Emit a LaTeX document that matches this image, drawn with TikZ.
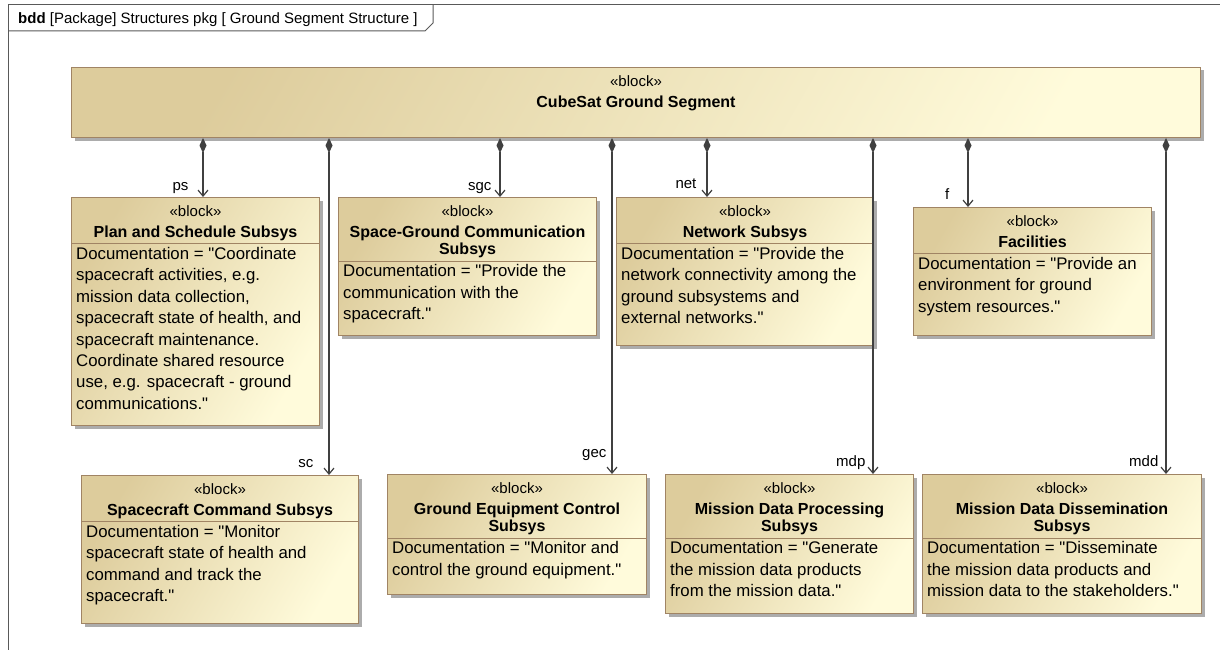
\documentclass[tikz,border=0pt]{standalone}
\usepackage{fontspec}
\setmainfont{Liberation Sans}[Ligatures=TeXOff]
\usetikzlibrary{positioning,arrows.meta,shadows}

\definecolor{blkTan}{RGB}{221,204,156}
\definecolor{blkCream}{RGB}{255,251,219}
\definecolor{blkBorder}{RGB}{160,132,100}
\definecolor{lineGray}{RGB}{64,64,64}

\newcommand{\blockkw}{{\mdseries\fontsize{15}{15}\selectfont «block»}}

\tikzset{
    blk/.style ={
        draw=blkBorder,
        line width=1pt,
        left color=blkTan,
        right color=blkCream,
        shading angle=60,
        inner sep=0pt,
        anchor=north west,
        drop shadow={shadow xshift=3pt,shadow yshift=-3pt,fill=black!65}
    },
    hdr/.style ={
        align=center,
        inner sep=0pt,
        text depth=0pt,
        font=\fontsize{16}{17.5}\selectfont\bfseries
    },
    doc/.style ={
        align=left,
        inner sep=0pt,
        anchor=north west,
        font=\fontsize{16.8}{21.4}\selectfont
    },
    sepline/.style ={
        draw=blkBorder,
        line width=1pt
    },
    comp/.style ={
        draw=lineGray,
        line width=1.2pt,
        {Diamond[length=15pt,width=7pt]}-{Straight Barb[length=6pt,width=10pt]}
    },
    role/.style ={
        inner sep=0pt,
        anchor=base east,
        font=\fontsize{15}{15}\selectfont
    },
    frm/.style ={
        draw=black!65,
        line width=1pt
    }
}

\begin{document}
\begin{tikzpicture}[x=1pt,y=-1pt]
    \useasboundingbox (0,0) rectangle (1220,650);
    % diagram frame
    \draw[frm] (8,650) -- (8,5) -- (1220,5);
    \draw[frm] (8,31) -- (425,31) -- (433,23) -- (433,5);
    \node[anchor=base west, inner sep=0pt, font=\fontsize{15}{15}\selectfont] (title) at (18,23.5)
        {\textbf{bdd} [Package] Structures pkg [ Ground Segment Structure ]};

    % whole segment
    \node[blk, minimum width=1129pt, minimum height=70pt] (main) at (71,67) {};
    \node[hdr, below=8pt of main.north] (main-h) {\blockkw\\[3.5pt]CubeSat Ground Segment};

    % top row
    \node[blk, minimum width=248pt, minimum height=228pt] (ps) at (71,197) {};
    \node[hdr, below=8pt of ps.north] (ps-h) {\blockkw\\[3.5pt]Plan and Schedule Subsys};
    \path (ps-h.south -| ps.west) ++(0,6.3) coordinate (ps-s);
    \draw[sepline] (ps-s) -- (ps-s -| ps.east);
    \node[doc] (ps-d) at ([shift={(5,3.5)}]ps-s) {Documentation = "Coordinate\\spacecraft activities, e.g.\\mission data collection,\\spacecraft state of health, and\\spacecraft maintenance.\\Coordinate shared resource\\use, e.g. spacecraft - ground\\communications."};

    \node[blk, minimum width=258pt, minimum height=138pt] (sgc) at (338,197) {};
    \node[hdr, below=8pt of sgc.north] (sgc-h) {\blockkw\\[3.5pt]Space-Ground Communication\\Subsys};
    \path (sgc-h.south -| sgc.west) ++(0,6.3) coordinate (sgc-s);
    \draw[sepline] (sgc-s) -- (sgc-s -| sgc.east);
    \node[doc] (sgc-d) at ([shift={(5,3.5)}]sgc-s) {Documentation = "Provide the\\communication with the\\spacecraft."};

    \node[blk, minimum width=257pt, minimum height=148pt] (net) at (616,197) {};
    \node[hdr, below=8pt of net.north] (net-h) {\blockkw\\[3.5pt]Network Subsys};
    \path (net-h.south -| net.west) ++(0,6.3) coordinate (net-s);
    \draw[sepline] (net-s) -- (net-s -| net.east);
    \node[doc] (net-d) at ([shift={(5,3.5)}]net-s) {Documentation = "Provide the\\network connectivity among the\\ground subsystems and\\external networks."};

    \node[blk, minimum width=238pt, minimum height=128pt] (f) at (913,207) {};
    \node[hdr, below=8pt of f.north] (f-h) {\blockkw\\[3.5pt]Facilities};
    \path (f-h.south -| f.west) ++(0,6.3) coordinate (f-s);
    \draw[sepline] (f-s) -- (f-s -| f.east);
    \node[doc] (f-d) at ([shift={(5,3.5)}]f-s) {Documentation = "Provide an\\environment for ground\\system resources."};

    % bottom row
    \node[blk, minimum width=277pt, minimum height=148pt] (sc) at (81,475) {};
    \node[hdr, below=8pt of sc.north] (sc-h) {\blockkw\\[3.5pt]Spacecraft Command Subsys};
    \path (sc-h.south -| sc.west) ++(0,6.3) coordinate (sc-s);
    \draw[sepline] (sc-s) -- (sc-s -| sc.east);
    \node[doc] (sc-d) at ([shift={(5,3.5)}]sc-s) {Documentation = "Monitor\\spacecraft state of health and\\command and track the\\spacecraft."};

    \node[blk, minimum width=259pt, minimum height=120pt] (gec) at (387,474) {};
    \node[hdr, below=8pt of gec.north] (gec-h) {\blockkw\\[3.5pt]Ground Equipment Control\\Subsys};
    \path (gec-h.south -| gec.west) ++(0,6.3) coordinate (gec-s);
    \draw[sepline] (gec-s) -- (gec-s -| gec.east);
    \node[doc] (gec-d) at ([shift={(5,3.5)}]gec-s) {Documentation = "Monitor and\\control the ground equipment."};

    \node[blk, minimum width=248pt, minimum height=139pt] (mdp) at (665,474) {};
    \node[hdr, below=8pt of mdp.north] (mdp-h) {\blockkw\\[3.5pt]Mission Data Processing\\Subsys};
    \path (mdp-h.south -| mdp.west) ++(0,6.3) coordinate (mdp-s);
    \draw[sepline] (mdp-s) -- (mdp-s -| mdp.east);
    \node[doc] (mdp-d) at ([shift={(5,3.5)}]mdp-s) {Documentation = "Generate\\the mission data products\\from the mission data."};

    \node[blk, minimum width=279pt, minimum height=139pt] (mdd) at (922,474) {};
    \node[hdr, below=8pt of mdd.north] (mdd-h) {\blockkw\\[3.5pt]Mission Data Dissemination\\Subsys};
    \path (mdd-h.south -| mdd.west) ++(0,6.3) coordinate (mdd-s);
    \draw[sepline] (mdd-s) -- (mdd-s -| mdd.east);
    \node[doc] (mdd-d) at ([shift={(5,3.5)}]mdd-s) {Documentation = "Disseminate\\the mission data products and\\mission data to the stakeholders."};

    % part associations
    \foreach \t/\x/\dx/\dy in {ps/203/14/7, sc/329/15/8, sgc/500/8/7, gec/612/5/17,
                               net/707/10/9, mdp/873/7/8, f/968/18/8, mdd/1166/7/8}
        \draw[comp] (main.south -| \x,0) -- (\t.north -| \x,0)
            node[role, xshift=-\dx, yshift=\dy] {\t};
\end{tikzpicture}
\end{document}
